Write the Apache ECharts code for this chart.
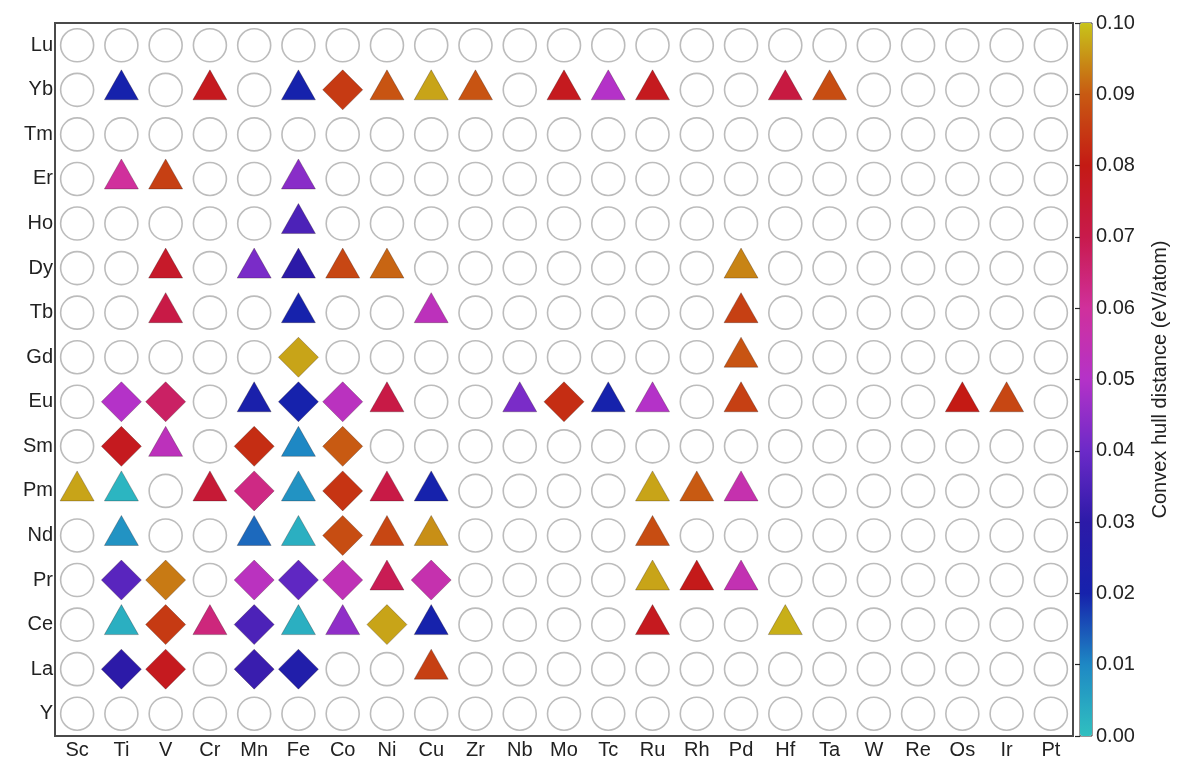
<!DOCTYPE html>
<html>
<head>
<meta charset="utf-8">
<script src="https://cdn.jsdelivr.net/npm/echarts@6/dist/echarts.min.js"></script>
<style>
html,body{margin:0;padding:0;background:#fff;}
#chart{width:1178px;height:761px;}
</style>
</head>
<body>
<div id="chart"></div>
<script>
const xCats = ['Sc','Ti','V','Cr','Mn','Fe','Co','Ni','Cu','Zr','Nb','Mo','Tc','Ru','Rh','Pd','Hf','Ta','W','Re','Os','Ir','Pt'];
const yCats = ['Y','La','Ce','Pr','Nd','Pm','Sm','Eu','Gd','Tb','Dy','Ho','Er','Tm','Yb','Lu'];
const colorTicks = [0.00,0.01,0.02,0.03,0.04,0.05,0.06,0.07,0.08,0.09,0.10];
const colorStops = ['#30c0c0','#1e88c4','#1622ac','#2c1aa8','#6c2ac8','#b432c8','#d0309c','#c81a4c','#c41a14','#c85a12','#c8c41a'];

// [x element, rare earth, convex hull distance (eV/atom)]
const triangles = [
  ['Ti','Yb',0.020],['Cr','Yb',0.078],['Fe','Yb',0.020],['Ni','Yb',0.089],['Cu','Yb',0.097],['Zr','Yb',0.089],
  ['Mo','Yb',0.078],['Tc','Yb',0.050],['Ru','Yb',0.078],['Hf','Yb',0.072],['Ta','Yb',0.088],
  ['Ti','Er',0.060],['V','Er',0.086],['Fe','Er',0.044],
  ['Fe','Ho',0.035],
  ['V','Dy',0.076],['Mn','Dy',0.042],['Fe','Dy',0.030],['Co','Dy',0.087],['Ni','Dy',0.091],['Pd','Dy',0.094],
  ['V','Tb',0.071],['Fe','Tb',0.020],['Cu','Tb',0.053],['Pd','Tb',0.086],
  ['Pd','Gd',0.089],
  ['Mn','Eu',0.022],['Ni','Eu',0.071],['Nb','Eu',0.042],['Tc','Eu',0.020],['Ru','Eu',0.050],['Pd','Eu',0.086],
  ['Os','Eu',0.080],['Ir','Eu',0.087],
  ['V','Sm',0.053],['Fe','Sm',0.010],
  ['Sc','Pm',0.097],['Ti','Pm',0.002],['Cr','Pm',0.074],['Fe','Pm',0.008],['Ni','Pm',0.071],['Cu','Pm',0.020],
  ['Ru','Pm',0.097],['Rh','Pm',0.090],['Pd','Pm',0.056],
  ['Ti','Nd',0.008],['Mn','Nd',0.013],['Fe','Nd',0.003],['Ni','Nd',0.087],['Cu','Nd',0.095],['Ru','Nd',0.088],
  ['Ni','Pr',0.069],['Ru','Pr',0.097],['Rh','Pr',0.079],['Pd','Pr',0.055],
  ['Ti','Ce',0.003],['Cr','Ce',0.064],['Fe','Ce',0.003],['Co','Ce',0.045],['Cu','Ce',0.020],['Ru','Ce',0.078],['Hf','Ce',0.098],
  ['Cu','La',0.086]
];
const diamonds = [
  ['Co','Yb',0.085],
  ['Fe','Gd',0.097],
  ['Ti','Eu',0.050],['V','Eu',0.067],['Fe','Eu',0.020],['Co','Eu',0.052],['Mo','Eu',0.083],
  ['Ti','Sm',0.078],['Mn','Sm',0.083],['Co','Sm',0.090],
  ['Mn','Pm',0.063],['Co','Pm',0.084],
  ['Co','Nd',0.088],
  ['Ti','Pr',0.037],['V','Pr',0.093],['Mn','Pr',0.052],['Fe','Pr',0.038],['Co','Pr',0.054],['Cu','Pr',0.056],
  ['V','Ce',0.085],['Mn','Ce',0.035],['Ni','Ce',0.097],
  ['Ti','La',0.030],['V','La',0.078],['Mn','La',0.032],['Fe','La',0.025]
];

const filled = new Set(triangles.concat(diamonds).map(d => d[0] + '|' + d[1]));
const circles = [];
yCats.forEach(y => xCats.forEach(x => { if (!filled.has(x + '|' + y)) circles.push([x, y]); }));

const font = "'Liberation Sans', Arial, Helvetica, sans-serif";
const chart = echarts.init(document.getElementById('chart'));
chart.setOption({
  animation: false,
  grid: [
    {left: 55, top: 23, width: 1018, height: 713, show: true, borderColor: '#4a4a4a', borderWidth: 2, backgroundColor: '#fff'},
    {left: 1080, top: 23, width: 12, height: 713, show: true, borderColor: '#333', borderWidth: 1}
  ],
  xAxis: [
    {type: 'category', data: xCats, gridIndex: 0, boundaryGap: true,
     axisLine: {show: false}, axisTick: {show: false}, splitLine: {show: false},
     axisLabel: {fontSize: 20, color: '#222', fontFamily: font, margin: 4, interval: 0}},
    {type: 'value', gridIndex: 1, show: false}
  ],
  yAxis: [
    {type: 'category', data: yCats, gridIndex: 0, boundaryGap: true,
     axisLine: {show: false}, axisTick: {show: false}, splitLine: {show: false},
     axisLabel: {fontSize: 20, color: '#222', fontFamily: font, margin: 2, interval: 0}},
    {type: 'value', gridIndex: 1, position: 'right', min: 0, max: 0.1, interval: 0.01, z: 10,
     axisLine: {show: false}, splitLine: {show: false},
     axisTick: {show: true, inside: true, length: 5, lineStyle: {color: '#222', width: 1.2}},
     axisLabel: {fontSize: 20, color: '#222', fontFamily: font, margin: 4, formatter: v => v.toFixed(2)},
     name: 'Convex hull distance (eV/atom)', nameLocation: 'middle', nameRotate: 90, nameGap: 58,
     nameTextStyle: {fontSize: 20, color: '#222', fontFamily: font}}
  ],
  visualMap: {
    type: 'continuous', min: colorTicks[0], max: colorTicks[colorTicks.length - 1], z: 2,
    seriesIndex: [1, 2], dimension: 2, calculable: false, hoverLink: false,
    left: 1080, top: 23, itemWidth: 12, itemHeight: 713, padding: 0, text: null, showLabel: false,
    inRange: {color: colorStops}
  },
  series: [
    {type: 'scatter', xAxisIndex: 0, yAxisIndex: 0, data: circles, symbol: 'circle', symbolSize: 33, silent: true,
     itemStyle: {color: '#fff', borderColor: '#ababab', borderWidth: 1.6}},
    {type: 'scatter', xAxisIndex: 0, yAxisIndex: 0, data: triangles, symbol: 'triangle', symbolSize: [34, 30],
     symbolOffset: [0, -5], silent: true, itemStyle: {borderColor: 'rgba(40,20,20,0.35)', borderWidth: 0.8, opacity: 1}},
    {type: 'scatter', xAxisIndex: 0, yAxisIndex: 0, data: diamonds, symbol: 'diamond', symbolSize: [40, 40],
     silent: true, itemStyle: {borderColor: 'rgba(40,20,20,0.35)', borderWidth: 0.8, opacity: 1}}
  ]
});
</script>
</body>
</html>
